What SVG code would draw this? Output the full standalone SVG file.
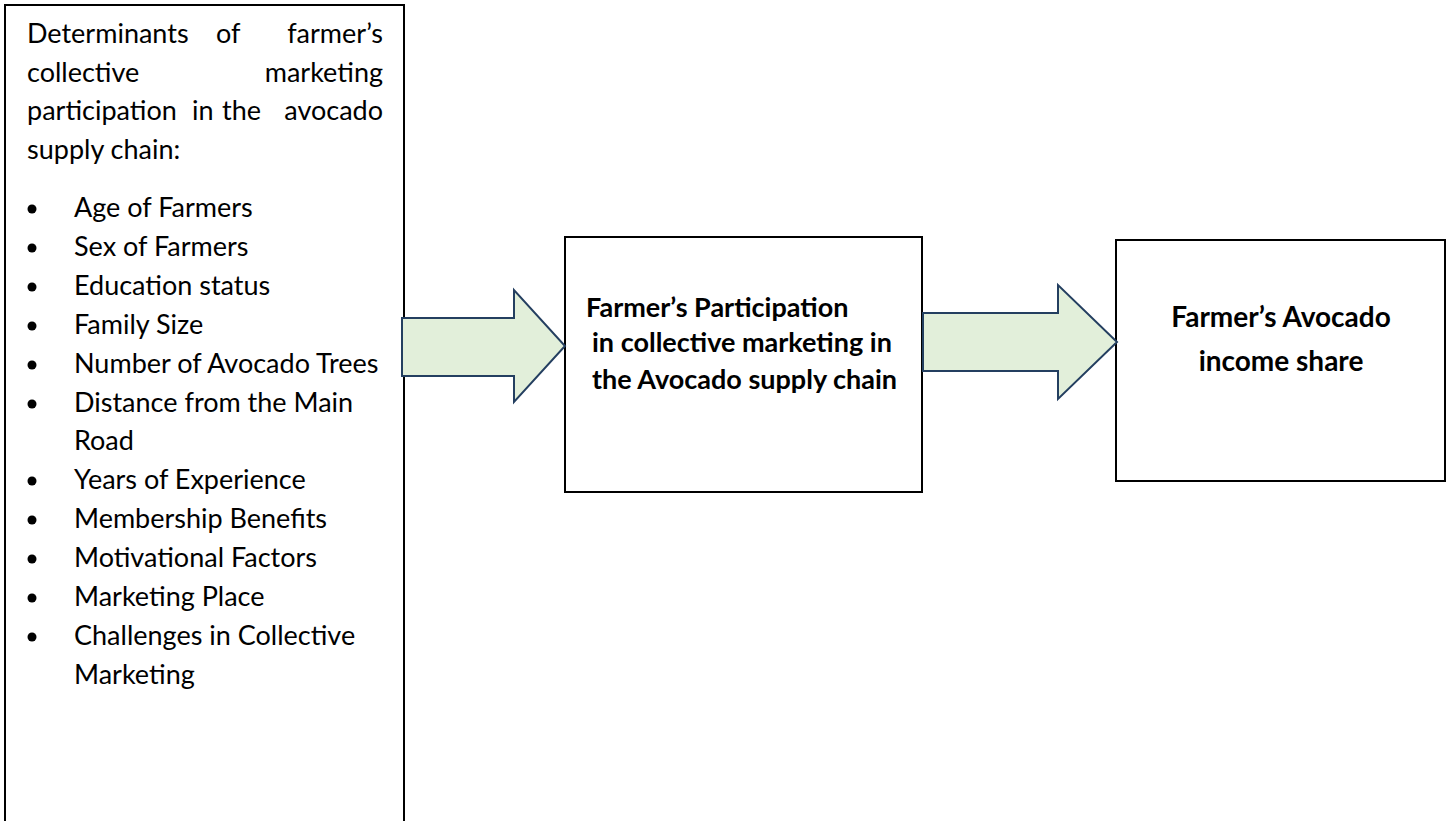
<svg xmlns="http://www.w3.org/2000/svg" width="1453" height="821" viewBox="0 0 1453 821">
<style>
.box{fill:#fff;stroke:#000;stroke-width:2}
.reg{font-family:Lato,"Open Sans","Liberation Sans",sans-serif;font-size:27px;fill:#000}
.bold{font-family:Lato,"Open Sans","Liberation Sans",sans-serif;font-size:27px;font-weight:bold;fill:#000}
.big{font-family:Lato,"Open Sans","Liberation Sans",sans-serif;font-size:28px;font-weight:bold;fill:#000}
.arrow{fill:#E2EFDA;stroke:#243F60;stroke-width:2;stroke-linejoin:miter}
.dot{fill:#000}
</style>
<rect width="1453" height="821" fill="#fff"/>
<g id="determinants">
<rect class="box" x="5" y="5" width="399" height="840"/>
<text class="reg" x="27" y="43">Determinants</text>
<text class="reg" x="216" y="43">of</text>
<text class="reg" x="383" y="43" text-anchor="end">farmer’s</text>
<text class="reg" x="27" y="82">collective</text>
<text class="reg" x="383" y="82" text-anchor="end">marketing</text>
<text class="reg" x="27" y="120">participation</text>
<text class="reg" x="192" y="120">in</text>
<text class="reg" x="222" y="120">the</text>
<text class="reg" x="383" y="120" text-anchor="end">avocado</text>
<text class="reg" x="27" y="159">supply chain:</text>
<circle class="dot" cx="32" cy="209" r="4.5"/><text class="reg" x="74" y="217">Age of Farmers</text>
<circle class="dot" cx="32" cy="248" r="4.5"/><text class="reg" x="74" y="256">Sex of Farmers</text>
<circle class="dot" cx="32" cy="287" r="4.5"/><text class="reg" x="74" y="295">Education status</text>
<circle class="dot" cx="32" cy="326" r="4.5"/><text class="reg" x="74" y="334">Family Size</text>
<circle class="dot" cx="32" cy="365" r="4.5"/><text class="reg" x="74" y="373">Number of Avocado Trees</text>
<circle class="dot" cx="32" cy="404" r="4.5"/><text class="reg" x="74" y="412">Distance from the Main</text>
<text class="reg" x="74" y="450">Road</text>
<circle class="dot" cx="32" cy="481" r="4.5"/><text class="reg" x="74" y="489">Years of Experience</text>
<circle class="dot" cx="32" cy="520" r="4.5"/><text class="reg" x="74" y="528">Membership Benefits</text>
<circle class="dot" cx="32" cy="559" r="4.5"/><text class="reg" x="74" y="567">Motivational Factors</text>
<circle class="dot" cx="32" cy="598" r="4.5"/><text class="reg" x="74" y="606">Marketing Place</text>
<circle class="dot" cx="32" cy="637" r="4.5"/><text class="reg" x="74" y="645">Challenges in Collective</text>
<text class="reg" x="74" y="684">Marketing</text>
</g>
<g id="participation">
<rect class="box" x="565" y="237" width="357" height="255"/>
<text class="bold" x="586" y="317">Farmer’s Participation</text>
<text class="bold" x="592" y="352">in collective marketing in</text>
<text class="bold" x="592" y="389">the Avocado supply chain</text>
</g>
<g id="income">
<rect class="box" x="1116" y="240" width="329" height="241"/>
<text class="big" x="1281" y="327" text-anchor="middle">Farmer’s Avocado</text>
<text class="big" x="1281" y="371" text-anchor="middle">income share</text>
</g>
<g id="connectors">
<polygon class="arrow" points="402,318 514,318 514,290 565,346 514,402 514,376 402,376"/>
<polygon class="arrow" points="923,313 1058,313 1058,285 1117,342 1058,399 1058,371 923,371"/>
</g>
</svg>
